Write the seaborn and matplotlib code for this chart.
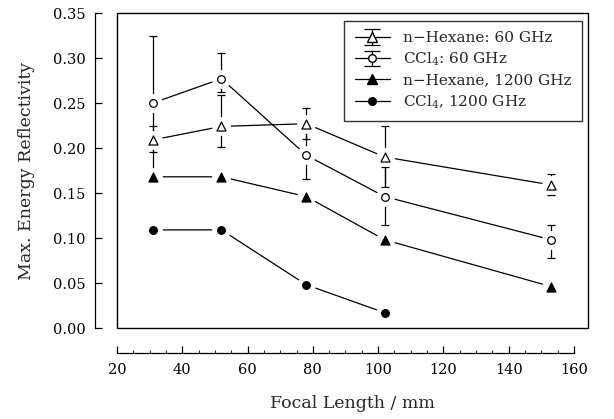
import numpy as np
import pandas as pd
import matplotlib
matplotlib.use("Agg")
import matplotlib.pyplot as plt
import seaborn as sns
from matplotlib.lines import Line2D
from matplotlib.patches import Rectangle
from matplotlib.ticker import MultipleLocator

# ---- data ----
focal = [31, 52, 78, 102, 153]
hex60 = [0.209, 0.224, 0.227, 0.190, 0.159]
hex60_lo = [0.013, 0.0225, 0.017, 0.033, 0.011]
hex60_hi = [0.016, 0.035, 0.017, 0.034, 0.012]
ccl60 = [0.250, 0.277, 0.192, 0.146, 0.098]
ccl60_lo = [0.074, 0.0145, 0.026, 0.032, 0.0205]
ccl60_hi = [0.074, 0.029, 0.026, 0.033, 0.016]
hex1200 = [0.168, 0.168, 0.146, 0.098, 0.046]
ccl1200 = [0.109, 0.109, 0.048, 0.017]

labels = ["n\u2212Hexane: 60 GHz", "CCl$_4$: 60 GHz",
          "n\u2212Hexane, 1200 GHz", "CCl$_4$, 1200 GHz"]

sns.set_theme(style="ticks")
plt.rcParams["font.family"] = ["DejaVu Serif"]
plt.rcParams["mathtext.fontset"] = "dejavuserif"

fig = plt.figure(figsize=(6.14, 4.19), dpi=100)
ax = fig.add_axes([117 / 614, 1 - 328 / 419, 471 / 614, 315 / 419])

series = [
    (labels[0], focal, hex60, (hex60_lo, hex60_hi), "^", "white", 6.5),
    (labels[1], focal, ccl60, (ccl60_lo, ccl60_hi), "o", "white", 5.5),
    (labels[2], focal, hex1200, None, "^", "black", 6.5),
    (labels[3], focal[:4], ccl1200, None, "o", "black", 5.5),
]

rows = []
for name, xs, ys, _, _, _, _ in series:
    for xv, yv in zip(xs, ys):
        rows.append({"series": name, "x": xv, "y": yv})
df = pd.DataFrame(rows)

sns.lineplot(data=df, x="x", y="y", hue="series", palette=["black"] * 4,
             linewidth=0.9, legend=False, ax=ax, sort=False)
for ln in ax.get_lines():
    ln.set_zorder(1)

for name, xs, ys, err, mk, fc, ms in series:
    if err is not None:
        ax.errorbar(xs, ys, yerr=[err[0], err[1]], fmt="none", ecolor="black",
                    elinewidth=0.9, capsize=2.6, capthick=0.9, zorder=1)

# white halos so lines stop short of the markers
ax.plot(df["x"].to_numpy(), df["y"].to_numpy(), linestyle="none", marker="o",
        ms=13.5, mfc="white", mec="white", mew=0, zorder=2)

for name, xs, ys, err, mk, fc, ms in series:
    sub = df[df["series"] == name]
    sns.scatterplot(data=sub, x="x", y="y", ax=ax, marker=mk, s=(ms ** 2),
                    facecolor=fc, edgecolor="black", linewidth=0.9,
                    legend=False, zorder=3)

ax.set_xlim(20.6, 164.3)
ax.set_ylim(0, 0.35)

# frame box
ax.add_patch(Rectangle((0, 0), 1, 1, transform=ax.transAxes, fill=False,
                       edgecolor="black", linewidth=1.0, clip_on=False, zorder=5))

for s in ["top", "right"]:
    ax.spines[s].set_visible(False)
ax.spines["left"].set_position(("outward", 15.8))
ax.spines["bottom"].set_position(("outward", 18))
ax.spines["left"].set_bounds(0, 0.35)
ax.spines["bottom"].set_bounds(20, 160)
for s in ["left", "bottom"]:
    ax.spines[s].set_linewidth(0.9)
    ax.spines[s].set_color("black")

ax.set_xticks([20, 40, 60, 80, 100, 120, 140, 160])
ax.xaxis.set_minor_locator(MultipleLocator(5))
ax.set_yticks(np.arange(0, 0.351, 0.05))
ax.yaxis.set_major_formatter(matplotlib.ticker.FormatStrFormatter("%.2f"))
ax.tick_params(axis="both", which="major", direction="in", length=5,
               width=0.9, labelsize=10.5, pad=7, colors="black")
ax.tick_params(axis="x", which="minor", direction="in", length=2.5, width=0.8)

ax.set_xlabel("Focal Length / mm", fontsize=12.5, labelpad=13)
ax.set_ylabel("Max. Energy Reflectivity", fontsize=12.5, labelpad=13)

# legend handles
h0 = ax.errorbar([np.nan], [np.nan], yerr=[1], fmt="-", marker="^", ms=6.5,
                 mfc="white", mec="black", color="black", lw=0.9,
                 capsize=6, capthick=0.9, elinewidth=0.9)
h1 = ax.errorbar([np.nan], [np.nan], yerr=[1], fmt="-", marker="o", ms=5.5,
                 mfc="white", mec="black", color="black", lw=0.9,
                 capsize=6, capthick=0.9, elinewidth=0.9)
h2 = Line2D([], [], color="black", lw=0.9, marker="^", ms=6.5, mfc="black", mec="black")
h3 = Line2D([], [], color="black", lw=0.9, marker="o", ms=5.5, mfc="black", mec="black")
leg = ax.legend([h0, h1, h2, h3], labels, loc="upper right",
                bbox_to_anchor=(0.987, 0.976), borderaxespad=0, fontsize=11,
                frameon=True, fancybox=False, edgecolor="black",
                handlelength=2.3, handletextpad=0.85, labelspacing=0.36,
                borderpad=0.7)
leg.get_frame().set_linewidth(1.0)
leg.set_zorder(6)

fig.savefig("out.png", dpi=100, facecolor="white")
